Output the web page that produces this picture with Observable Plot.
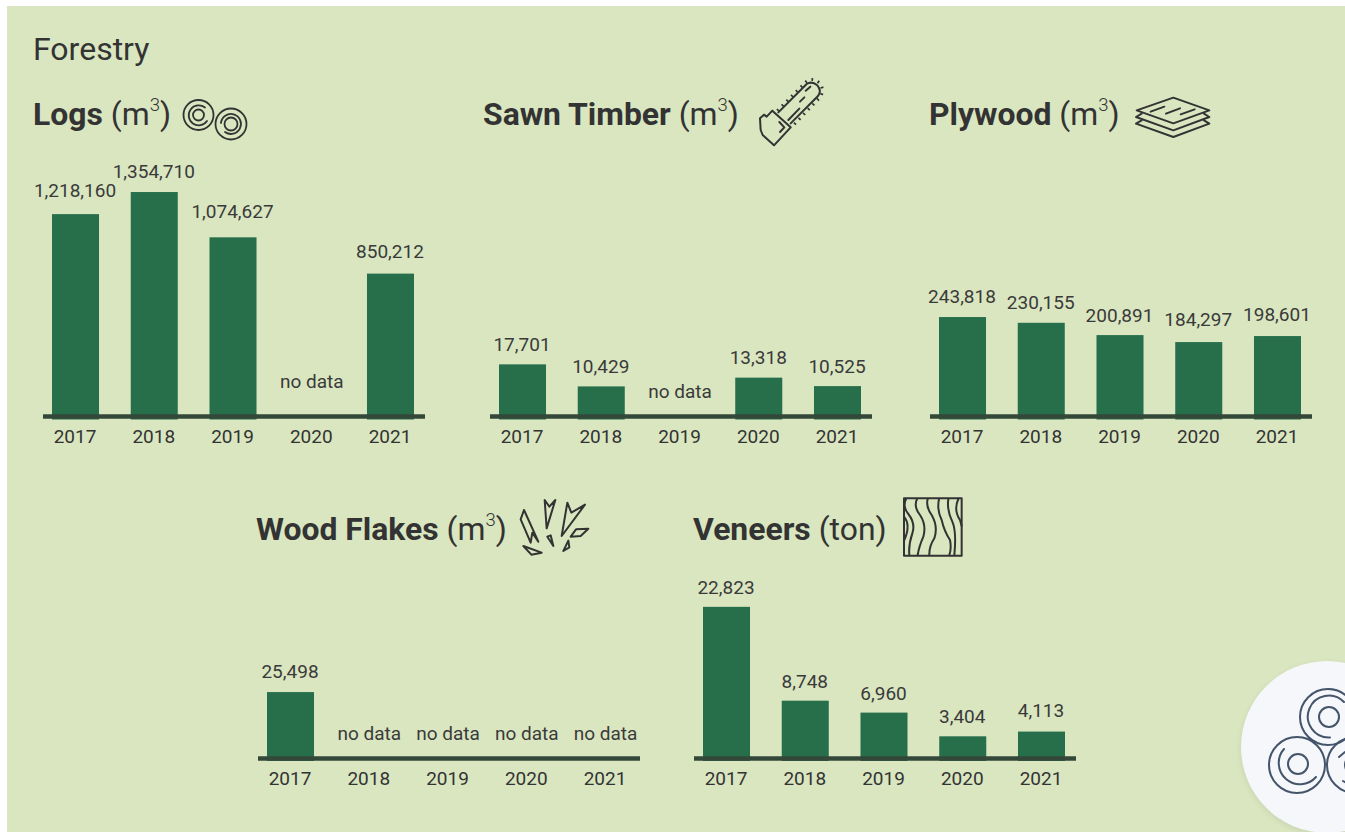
<!DOCTYPE html>
<html><head><meta charset="utf-8">
<script src="https://cdn.jsdelivr.net/npm/d3@7"></script>
<script src="https://cdn.jsdelivr.net/npm/@observablehq/plot@0.6"></script>
<style>
html,body{margin:0;padding:0;background:#fff;overflow:hidden;width:1345px;height:832px}
#panel{position:absolute;left:7px;top:6px;width:1338px;height:826px;background:#d9e6c0;overflow:hidden}
#page{position:absolute;left:0;top:0;width:1345px;height:832px;font-family:Roboto,sans-serif;color:#333}
.h{position:absolute;white-space:nowrap;font-size:31.9px;line-height:38px;color:#333;font-weight:400}
.h b{font-weight:700}
.h sup{font-size:18.5px;line-height:0;position:relative;top:-2px;vertical-align:super;font-weight:300}
.main{position:absolute;left:33px;top:30px;font-size:32px;line-height:38px;color:#333;font-weight:400}
.plot{position:absolute}
svg.icon{position:absolute;fill:none;stroke:#333;stroke-linecap:round;stroke-linejoin:round}
#badge{position:absolute;left:1241px;top:661px;width:172px;height:172px;border-radius:50%;background:#f5f7fa;box-shadow:0 2px 6px rgba(0,0,0,.08)}
</style></head><body>
<div id="panel"></div>
<div id="page">
<div class="main">Forestry</div>
<div class="h" style="left:33px;top:95px"><b>Logs</b> (m<sup>3</sup>)</div>
<div class="h" style="left:483px;top:95px"><b>Sawn Timber</b> (m<sup>3</sup>)</div>
<div class="h" style="left:929px;top:95px"><b>Plywood</b> (m<sup>3</sup>)</div>
<div class="h" style="left:256px;top:510px"><b>Wood Flakes</b> (m<sup>3</sup>)</div>
<div class="h" style="left:693px;top:510px"><b>Veneers</b> (ton)</div>

<svg class="icon" style="left:180px;top:95px" width="72" height="48" viewBox="0 0 72 48" stroke-width="1.8">
<circle cx="18.5" cy="20" r="15"/><path d="M25 12.5A10 10 0 1 0 27 26"/><circle cx="18.5" cy="20" r="5.5"/>
<circle cx="51" cy="29" r="15.5"/><path d="M41 28A10 10 0 1 1 45 37"/><circle cx="51" cy="29" r="6.5"/>
</svg>
<svg class="icon" style="left:740px;top:70px" width="100" height="90" viewBox="0 0 300 270" stroke-width="6">
<path d="M97 122L152 172L102 226L68 195L62 180L60 145L72 134L80 140Z"/>
<path d="M115 127L200 42Q215 32 232 46Q246 62 234 78L152 160"/>
<path d="M112 122L200 34Q218 21 239 39Q255 60 240 82L160 166" stroke-width="9" stroke-dasharray="5 15" stroke-linecap="butt"/>
<path d="M118 156L133 172L120 186M145 150L178 116M180 95L193 82M197 62L211 50"/>
</svg>
<svg class="icon" style="left:1120px;top:85px" width="105" height="60" viewBox="0 0 315 180" stroke-width="6">
<path d="M160 38L268 76L160 115L50 76Z"/>
<path d="M65 86L48 96L160 136L268 96L252 86"/>
<path d="M65 106L48 116L160 156L268 116L252 106"/>
<path d="M92 80L133 65M138 86L180 70M182 88L224 73"/>
</svg>
<svg class="icon" style="left:510px;top:490px" width="90" height="70" viewBox="0 0 270 210" stroke-width="6">
<path d="M42 60L32 88L62 158L67 128L85 155Z"/>
<path d="M104 30L118 50L136 30L110 115Z"/>
<path d="M172 38L184 68L225 44L155 138Z"/>
<path d="M198 118L235 116L212 138L182 140Z"/>
<path d="M112 140L122 136L130 168Z"/>
<path d="M175 152L178 172L160 183Z"/>
<path d="M40 168L95 188L64 194Z"/>
</svg>
<svg class="icon" style="left:895px;top:490px" width="75" height="70" viewBox="0 0 225 210" stroke-width="6" stroke-linecap="butt">
<rect x="27" y="25" width="173" height="172"/>
<path d="M33 27Q22 50 40 72Q62 100 52 130Q40 165 43 195"/>
<path d="M66 27Q55 50 75 75Q95 105 85 140Q72 170 68 195"/>
<path d="M98 27Q92 50 110 75Q130 110 118 145Q102 170 103 195"/>
<path d="M132 27Q125 60 140 90Q148 125 165 150Q170 175 163 195"/>
<path d="M160 27Q155 60 172 95Q185 125 178 195"/>
<path d="M190 27Q175 60 195 90L200 108"/>
<path d="M27 80Q48 105 28 150"/>
</svg>

<div id="badge"></div>
<svg class="icon" style="left:1225px;top:650px;stroke:#44546a" width="120" height="182" viewBox="0 0 120 182" stroke-width="2">
<circle cx="103" cy="67" r="28"/><path d="M119 52A21 21 0 1 0 105 87.5"/><circle cx="104" cy="67" r="10"/>
<circle cx="72" cy="115" r="28"/><path d="M59 99A21 21 0 1 0 91 127"/><circle cx="73" cy="114" r="10"/>
<circle cx="130" cy="115" r="28"/><path d="M114 107L120 102M118 131L123 134"/><circle cx="130" cy="115" r="10"/>
</svg>
</div>
<script>
const years = [2017, 2018, 2019, 2020, 2021];
const logs = [1218160, 1354710, 1074627, null, 850212];
const sawnTimber = [17701, 10429, null, 13318, 10525];
const plywood = [243818, 230155, 200891, 184297, 198601];
const woodFlakes = [25498, null, null, null, null];
const veneers = [22823, 8748, 6960, 3404, 4113];

const panels = [
  {values: logs,       ruleX: 43,    axisY: 415.5, zeroY: 410.6, perUnit: 6184, barBottom: 419, labelDy: [-23.6, -20.5, -25.9, 0, -22.1], noDataY: 381},
  {values: sawnTimber, ruleX: 490.3, axisY: 415.5, zeroY: 417.5, perUnit: 330,  barBottom: 419, labelDy: [-20, -20, 0, -20, -20], noDataY: 391},
  {values: plywood,    ruleX: 930.4, axisY: 415.5, zeroY: 419,   perUnit: 2380, barBottom: 419, labelDy: [-20.6, -20.3, -19.6, -22.6, -21.6], noDataY: 0},
  {values: woodFlakes, ruleX: 258,   axisY: 758,   zeroY: 761,   perUnit: 370,  barBottom: 761, labelDy: [-21, 0, 0, 0, 0], noDataY: 733.5},
  {values: veneers,    ruleX: 694,   axisY: 758,   zeroY: 759,   perUnit: 150,  barBottom: 761, labelDy: [-19.8, -19.7, -19.6, -20.3, -21.6], noDataY: 0}
];
const page = document.getElementById("page");
const W = 382;
for (const p of panels) {
  const top = p.axisY - 290, H = 320;
  const data = years.map((year, i) => ({year: String(year), value: p.values[i], dy: p.labelDy[i]}));
  const has = data.filter(d => d.value != null);
  const none = data.filter(d => d.value == null);
  const maxV = d3.max(has, d => d.value);
  const z = p.zeroY - top;
  const chart = Plot.plot({
    width: W, height: H,
    marginLeft: 0, marginRight: 0, marginTop: 0, marginBottom: H - 290,
    style: {background: "transparent", fontFamily: "Roboto, sans-serif", fontSize: "19px", color: "#333", overflow: "visible"},
    x: {type: "band", domain: years.map(String), round: false, paddingInner: 0.403, paddingOuter: 0.127, align: 0.45, label: null},
    y: {domain: [0, maxV], range: [z, z - maxV / p.perUnit], axis: null},
    marks: [
      Plot.barY(has, {x: "year", y: "value", fill: "#276e4b", insetBottom: -(p.barBottom - p.zeroY)}),
      Plot.ruleY([0], {stroke: "#34483a", strokeWidth: 4.5, dy: p.axisY - p.zeroY}),
      Plot.axisX({anchor: "bottom", tickSize: 0, tickPadding: 13, dx: -1, label: null}),
      ...has.map(d => Plot.text([d], {x: "year", y: "value", text: d => d3.format(",")(d.value), dy: d.dy, dx: -1, fontSize: 19, fill: "#3a3a3a"})),
      Plot.text(none, {x: "year", y: () => 0, text: () => "no data", dy: p.noDataY - p.zeroY, dx: -0.5, fontSize: 19, fill: "#3a3a3a"})
    ]
  });
  chart.classList.add("plot");
  chart.style.left = p.ruleX + "px";
  chart.style.top = top + "px";
  page.appendChild(chart);
}
</script>
</body></html>
